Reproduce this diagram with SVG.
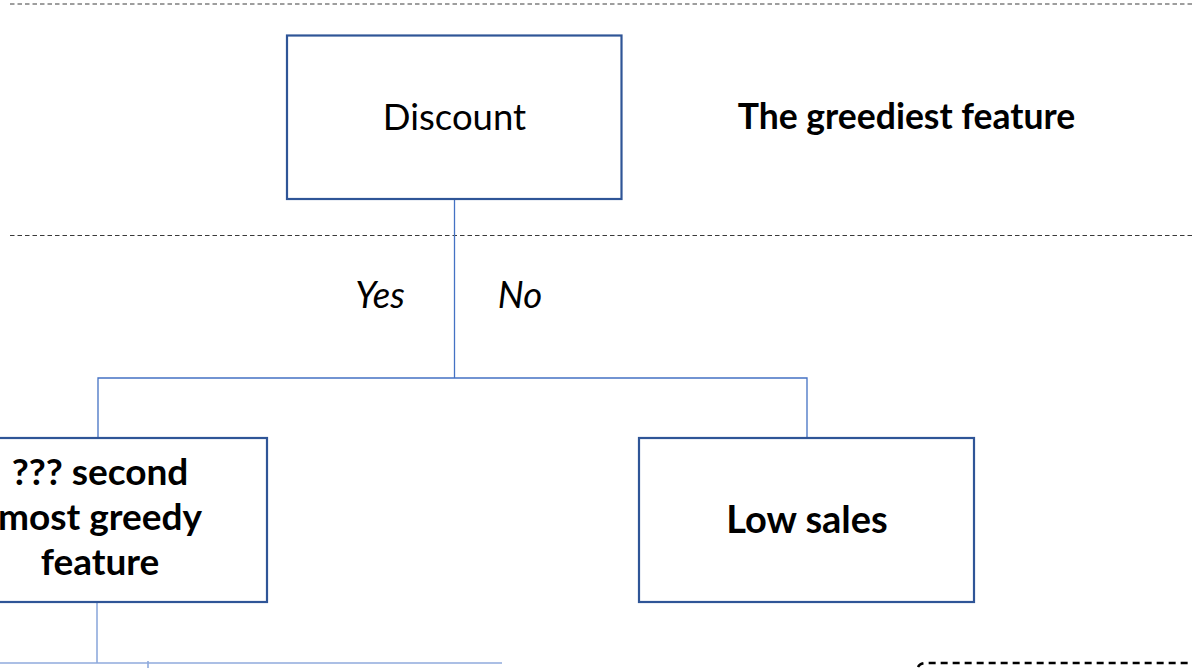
<svg xmlns="http://www.w3.org/2000/svg" width="1192" height="668" viewBox="0 0 1192 668">
  <style>
    .box { fill: #ffffff; stroke: #2F5597; stroke-width: 2.2; }
    .link { fill: none; stroke: #4472C4; stroke-width: 1.3; }
    .link-soft { fill: none; stroke: #8FAADC; stroke-width: 1.6; }
    .lbl { font-family: Lato, "Open Sans", "Liberation Sans", sans-serif; fill: #000000; text-anchor: middle; }
    .reg { font-size: 36.5px; }
    .bold { font-size: 37px; font-weight: bold; }
    .ital { font-size: 36.5px; font-style: italic; }
  </style>
  <rect width="1192" height="668" fill="#ffffff"/>

  <!-- level separators -->
  <g id="separators">
    <line x1="10" y1="4" x2="1192" y2="4" stroke="#7F7F7F" stroke-width="1.4" stroke-dasharray="4.5 3"/>
    <line x1="10" y1="235.5" x2="1192" y2="235.5" stroke="#3A3A3A" stroke-width="1" stroke-dasharray="4.5 3"/>
    <path d="M918 667 Q920 663 926 663 L1192 663" fill="none" stroke="#000000" stroke-width="2.5" stroke-dasharray="7 5"/>
  </g>

  <!-- connectors -->
  <g id="connectors">
    <path class="link" d="M454.5 199 V378"/>
    <path class="link" d="M98 438 V378 H807 V438"/>
    <path class="link-soft" d="M97 602 V663"/>
    <path class="link-soft" d="M0 663 H502"/>
    <path class="link-soft" d="M148 661 V668"/>
  </g>

  <g id="node-discount">
    <rect class="box" x="287" y="35.5" width="334.5" height="163.5"/>
    <text class="lbl reg" x="454.5" y="130">Discount</text>
  </g>

  <g id="label-greediest">
    <text class="lbl bold" x="906.5" y="129" style="font-size:35.5px">The greediest feature</text>
  </g>

  <g id="branch-labels">
    <text class="lbl ital" x="380" y="308">Yes</text>
    <text class="lbl ital" x="520" y="308">No</text>
  </g>

  <g id="node-second">
    <rect class="box" x="-68" y="438" width="335" height="164"/>
    <text class="lbl bold" x="100" y="485">??? second</text>
    <text class="lbl bold" x="100" y="530">most greedy</text>
    <text class="lbl bold" x="100" y="575">feature</text>
  </g>

  <g id="node-low-sales">
    <rect class="box" x="639" y="438" width="335" height="164"/>
    <text class="lbl bold" x="807" y="533" style="font-size:38px">Low sales</text>
  </g>
</svg>
